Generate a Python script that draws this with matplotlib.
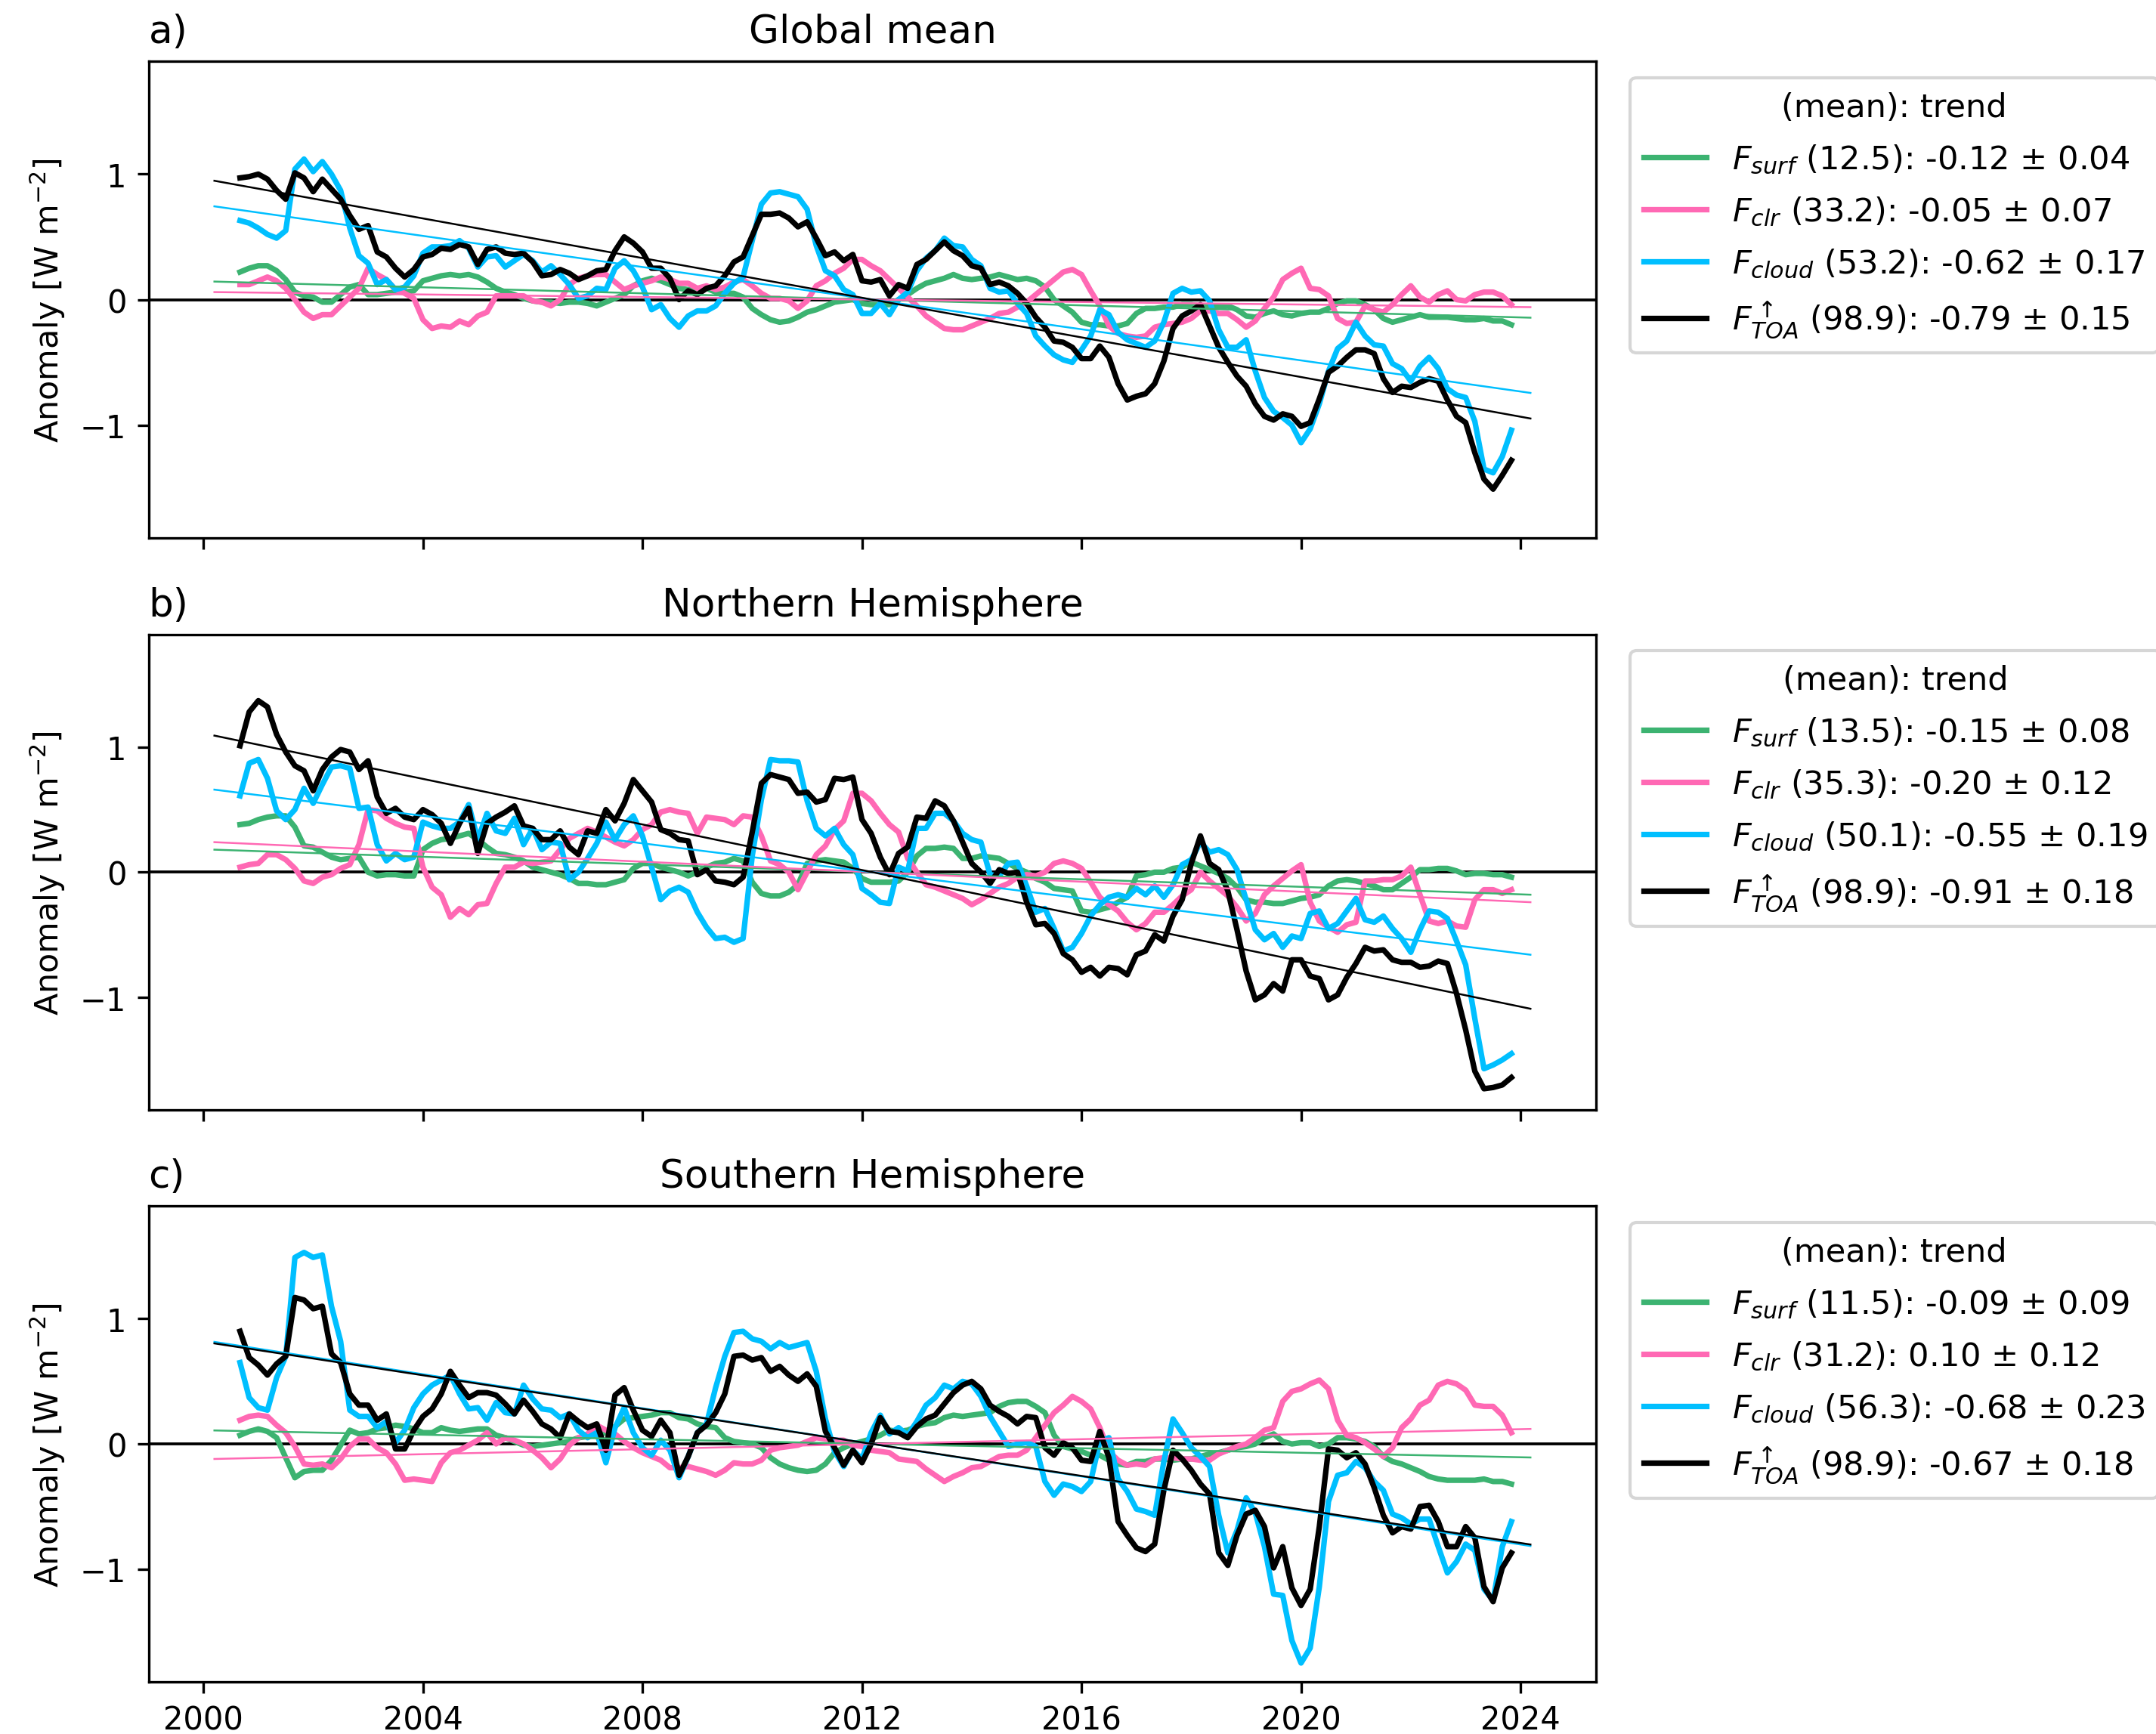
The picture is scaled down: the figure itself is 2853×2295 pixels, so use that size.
import numpy as np
import matplotlib
matplotlib.use("Agg")
import matplotlib.pyplot as plt

# Bi-monthly time axis of the 12-month running means (Sep 2000 .. Nov 2023)
time = 2000 + 8 / 12 + np.arange(140) / 6

# Period used for the linear trends (Mar 2000 .. Mar 2024)
trend_span = (2000.2, 2024.18)

names = [r"$F_{surf}$", r"$F_{clr}$", r"$F_{cloud}$", r"$F^{\uparrow}_{TOA}$"]
colors = ["mediumseagreen", "hotpink", "deepskyblue", "black"]

# ---------------- Global mean ----------------
gm_surf = [
    0.22, 0.25, 0.27, 0.27, 0.23, 0.16, 0.06, 0.03, 0.02, -0.02,
    -0.02, 0.04, 0.10, 0.12, 0.04, 0.04, 0.05, 0.06, 0.06, 0.07,
    0.15, 0.17, 0.19, 0.20, 0.19, 0.20, 0.18, 0.14, 0.09, 0.06,
    0.04, 0.01, -0.01, -0.02, -0.02, -0.03, -0.02, -0.02, -0.03, -0.05,
    -0.02, 0.01, 0.04, 0.11, 0.15, 0.17, 0.15, 0.12, 0.09, 0.08,
    0.09, 0.09, 0.06, 0.05, 0.05, 0.02, -0.07, -0.12, -0.16, -0.18,
    -0.17, -0.14, -0.10, -0.08, -0.05, -0.02, -0.01, 0.00, -0.03, -0.04,
    -0.04, -0.04, 0.00, 0.04, 0.09, 0.13, 0.15, 0.17, 0.20, 0.17,
    0.16, 0.17, 0.18, 0.20, 0.18, 0.16, 0.17, 0.15, 0.10, 0.00,
    -0.05, -0.10, -0.18, -0.20, -0.20, -0.21, -0.21, -0.19, -0.11, -0.07,
    -0.07, -0.06, -0.06, -0.04, -0.04, -0.05, -0.06, -0.06, -0.05, -0.08,
    -0.13, -0.14, -0.11, -0.09, -0.12, -0.13, -0.11, -0.10, -0.10, -0.07,
    -0.03, -0.01, -0.01, -0.04, -0.08, -0.15, -0.18, -0.16, -0.14, -0.12,
    -0.14, -0.14, -0.14, -0.15, -0.16, -0.16, -0.15, -0.17, -0.17, -0.20,
]
gm_clr = [
    0.12, 0.12, 0.15, 0.18, 0.15, 0.09, 0.00, -0.10, -0.15, -0.12,
    -0.12, -0.05, 0.02, 0.09, 0.25, 0.20, 0.16, 0.08, 0.05, 0.01,
    -0.16, -0.23, -0.21, -0.22, -0.17, -0.20, -0.13, -0.10, 0.03, 0.03,
    0.03, 0.03, -0.01, -0.02, -0.05, 0.00, 0.12, 0.17, 0.19, 0.20,
    0.20, 0.14, 0.08, 0.11, 0.13, 0.15, 0.18, 0.16, 0.13, 0.13,
    0.09, 0.11, 0.08, 0.10, 0.14, 0.16, 0.11, 0.05, 0.01, 0.01,
    -0.01, -0.07, -0.01, 0.11, 0.15, 0.21, 0.25, 0.32, 0.32, 0.27,
    0.23, 0.16, 0.09, 0.02, -0.05, -0.13, -0.18, -0.23, -0.24, -0.24,
    -0.21, -0.18, -0.15, -0.11, -0.10, -0.06, -0.02, 0.04, 0.10, 0.16,
    0.22, 0.24, 0.20, 0.07, -0.05, -0.21, -0.27, -0.29, -0.30, -0.29,
    -0.22, -0.20, -0.19, -0.18, -0.15, -0.09, -0.09, -0.11, -0.11, -0.16,
    -0.22, -0.17, -0.07, 0.02, 0.16, 0.21, 0.25, 0.09, 0.08, 0.03,
    -0.15, -0.19, -0.18, -0.05, -0.08, -0.10, -0.04, 0.04, 0.11, 0.02,
    -0.02, 0.04, 0.07, 0.00, -0.01, 0.04, 0.06, 0.06, 0.03, -0.04,
]
gm_cloud = [
    0.63, 0.61, 0.57, 0.52, 0.49, 0.55, 1.04, 1.12, 1.02, 1.10,
    1.00, 0.87, 0.57, 0.35, 0.29, 0.12, 0.16, 0.08, 0.10, 0.19,
    0.37, 0.42, 0.42, 0.43, 0.47, 0.41, 0.26, 0.34, 0.35, 0.26,
    0.31, 0.36, 0.31, 0.22, 0.27, 0.20, 0.12, 0.01, 0.03, 0.09,
    0.08, 0.25, 0.31, 0.23, 0.10, -0.08, -0.04, -0.15, -0.22, -0.13,
    -0.09, -0.09, -0.05, 0.05, 0.13, 0.18, 0.47, 0.76, 0.85, 0.86,
    0.84, 0.82, 0.72, 0.43, 0.23, 0.19, 0.08, 0.04, -0.11, -0.11,
    -0.03, -0.12, 0.00, 0.06, 0.23, 0.33, 0.39, 0.49, 0.43, 0.42,
    0.32, 0.27, 0.09, 0.06, 0.07, -0.03, -0.11, -0.29, -0.37, -0.44,
    -0.48, -0.50, -0.40, -0.29, -0.08, -0.12, -0.26, -0.32, -0.35, -0.38,
    -0.33, -0.18, 0.05, 0.09, 0.06, 0.07, -0.01, -0.24, -0.38, -0.38,
    -0.32, -0.57, -0.78, -0.89, -0.94, -1.00, -1.14, -1.03, -0.83, -0.57,
    -0.39, -0.33, -0.18, -0.29, -0.36, -0.37, -0.51, -0.55, -0.65, -0.53,
    -0.46, -0.55, -0.71, -0.76, -0.78, -0.97, -1.35, -1.38, -1.25, -1.04,
]
gm_toa = [
    0.97, 0.98, 1.00, 0.96, 0.87, 0.80, 1.01, 0.97, 0.86, 0.96,
    0.88, 0.80, 0.67, 0.56, 0.59, 0.38, 0.34, 0.25, 0.18, 0.24,
    0.34, 0.36, 0.41, 0.40, 0.44, 0.42, 0.28, 0.40, 0.42, 0.37,
    0.36, 0.37, 0.30, 0.19, 0.20, 0.24, 0.21, 0.16, 0.19, 0.23,
    0.24, 0.39, 0.50, 0.45, 0.38, 0.25, 0.25, 0.17, 0.00, 0.07,
    0.04, 0.09, 0.11, 0.19, 0.30, 0.34, 0.51, 0.68, 0.68, 0.69,
    0.65, 0.58, 0.62, 0.49, 0.35, 0.38, 0.31, 0.36, 0.15, 0.14,
    0.16, 0.03, 0.12, 0.09, 0.28, 0.32, 0.39, 0.46, 0.39, 0.35,
    0.27, 0.25, 0.12, 0.14, 0.11, 0.05, -0.03, -0.14, -0.22, -0.33,
    -0.34, -0.38, -0.47, -0.47, -0.37, -0.46, -0.67, -0.80, -0.77, -0.75,
    -0.67, -0.49, -0.23, -0.13, -0.09, -0.04, -0.21, -0.38, -0.50, -0.61,
    -0.69, -0.83, -0.93, -0.96, -0.91, -0.93, -1.01, -0.98, -0.79, -0.58,
    -0.53, -0.46, -0.40, -0.40, -0.43, -0.63, -0.74, -0.69, -0.70, -0.66,
    -0.63, -0.65, -0.80, -0.93, -0.98, -1.22, -1.43, -1.51, -1.40, -1.28,
]
gm_means = [12.5, 33.2, 53.2, 98.9]
gm_trends = [-0.12, -0.05, -0.62, -0.79]
gm_errors = [0.04, 0.07, 0.17, 0.15]

# ---------------- Northern Hemisphere ----------------
nh_surf = [
    0.38, 0.39, 0.42, 0.44, 0.45, 0.45, 0.36, 0.21, 0.20, 0.16,
    0.12, 0.10, 0.11, 0.12, 0.00, -0.03, -0.02, -0.02, -0.03, -0.03,
    0.18, 0.23, 0.26, 0.27, 0.29, 0.31, 0.26, 0.20, 0.15, 0.14,
    0.12, 0.09, 0.04, 0.02, 0.00, -0.02, -0.05, -0.09, -0.09, -0.10,
    -0.10, -0.08, -0.06, 0.03, 0.07, 0.07, 0.04, 0.02, 0.00, -0.03,
    0.00, 0.04, 0.07, 0.08, 0.11, 0.09, -0.08, -0.17, -0.19, -0.19,
    -0.16, -0.10, 0.07, 0.09, 0.10, 0.09, 0.08, 0.03, -0.05, -0.08,
    -0.08, -0.08, -0.07, 0.00, 0.13, 0.19, 0.19, 0.20, 0.19, 0.11,
    0.11, 0.13, 0.12, 0.11, 0.07, 0.03, 0.00, -0.05, -0.08, -0.13,
    -0.14, -0.15, -0.31, -0.32, -0.30, -0.28, -0.24, -0.20, -0.03, -0.02,
    0.00, 0.00, 0.03, 0.04, 0.08, 0.05, 0.02, -0.01, -0.05, -0.12,
    -0.22, -0.24, -0.24, -0.25, -0.25, -0.23, -0.21, -0.20, -0.18, -0.11,
    -0.07, -0.06, -0.07, -0.09, -0.11, -0.14, -0.14, -0.09, -0.04, 0.02,
    0.02, 0.03, 0.03, 0.01, -0.02, -0.01, -0.01, -0.02, -0.02, -0.04,
]
nh_clr = [
    0.04, 0.06, 0.07, 0.14, 0.14, 0.10, 0.03, -0.07, -0.09, -0.04,
    -0.02, 0.03, 0.06, 0.22, 0.50, 0.49, 0.43, 0.39, 0.36, 0.35,
    0.04, -0.12, -0.18, -0.36, -0.29, -0.34, -0.26, -0.25, -0.09, 0.04,
    0.04, 0.08, 0.07, 0.08, 0.09, 0.18, 0.27, 0.31, 0.35, 0.32,
    0.28, 0.24, 0.21, 0.26, 0.34, 0.38, 0.48, 0.50, 0.48, 0.47,
    0.31, 0.44, 0.43, 0.42, 0.38, 0.45, 0.44, 0.29, 0.09, 0.06,
    0.00, -0.14, 0.00, 0.14, 0.21, 0.34, 0.41, 0.63, 0.63, 0.57,
    0.47, 0.38, 0.32, 0.11, 0.00, -0.10, -0.12, -0.15, -0.18, -0.21,
    -0.26, -0.22, -0.17, -0.12, -0.09, -0.04, -0.02, -0.03, 0.00, 0.07,
    0.09, 0.07, 0.03, -0.08, -0.20, -0.26, -0.31, -0.40, -0.46, -0.41,
    -0.32, -0.32, -0.26, -0.19, -0.14, 0.00, -0.07, -0.13, -0.19, -0.28,
    -0.39, -0.33, -0.18, -0.11, -0.05, 0.01, 0.06, -0.24, -0.39, -0.44,
    -0.48, -0.42, -0.40, -0.07, -0.07, -0.06, -0.06, -0.03, 0.04, -0.18,
    -0.39, -0.41, -0.39, -0.43, -0.44, -0.22, -0.14, -0.14, -0.17, -0.14,
]
nh_cloud = [
    0.61, 0.87, 0.90, 0.75, 0.49, 0.42, 0.50, 0.67, 0.55, 0.70,
    0.84, 0.85, 0.83, 0.51, 0.52, 0.22, 0.09, 0.15, 0.10, 0.12,
    0.40, 0.37, 0.35, 0.35, 0.40, 0.54, 0.26, 0.47, 0.33, 0.31,
    0.43, 0.22, 0.35, 0.18, 0.24, 0.23, -0.06, 0.00, 0.11, 0.23,
    0.40, 0.26, 0.38, 0.45, 0.29, 0.04, -0.22, -0.15, -0.12, -0.16,
    -0.32, -0.44, -0.53, -0.52, -0.56, -0.53, 0.13, 0.58, 0.90, 0.89,
    0.89, 0.88, 0.57, 0.35, 0.29, 0.35, 0.22, 0.14, -0.13, -0.18,
    -0.24, -0.25, 0.04, 0.01, 0.35, 0.35, 0.47, 0.47, 0.41, 0.31,
    0.26, 0.24, -0.02, -0.03, 0.07, 0.08, -0.11, -0.32, -0.29, -0.45,
    -0.63, -0.60, -0.49, -0.35, -0.26, -0.20, -0.18, -0.20, -0.13, -0.18,
    -0.11, -0.20, -0.10, 0.06, 0.10, 0.24, 0.16, 0.18, 0.14, 0.02,
    -0.22, -0.46, -0.54, -0.49, -0.60, -0.51, -0.53, -0.33, -0.31, -0.45,
    -0.41, -0.31, -0.21, -0.38, -0.40, -0.35, -0.45, -0.53, -0.64, -0.46,
    -0.31, -0.32, -0.37, -0.55, -0.74, -1.17, -1.57, -1.54, -1.50, -1.45,
]
nh_toa = [
    1.01, 1.28, 1.37, 1.32, 1.10, 0.96, 0.85, 0.81, 0.65, 0.82,
    0.92, 0.98, 0.96, 0.82, 0.89, 0.60, 0.47, 0.51, 0.44, 0.42,
    0.50, 0.46, 0.39, 0.23, 0.39, 0.51, 0.15, 0.39, 0.44, 0.48,
    0.53, 0.37, 0.35, 0.26, 0.26, 0.33, 0.20, 0.14, 0.33, 0.31,
    0.50, 0.41, 0.55, 0.74, 0.65, 0.56, 0.34, 0.31, 0.26, 0.25,
    -0.02, 0.02, -0.07, -0.08, -0.10, -0.04, 0.32, 0.71, 0.78, 0.76,
    0.74, 0.63, 0.64, 0.56, 0.58, 0.75, 0.74, 0.76, 0.42, 0.31,
    0.12, -0.02, 0.15, 0.20, 0.44, 0.43, 0.57, 0.53, 0.41, 0.24,
    0.07, 0.00, -0.09, 0.02, -0.01, 0.00, -0.24, -0.42, -0.41, -0.49,
    -0.65, -0.70, -0.80, -0.76, -0.83, -0.76, -0.77, -0.82, -0.66, -0.63,
    -0.50, -0.55, -0.35, -0.22, 0.07, 0.29, 0.07, 0.02, -0.15, -0.46,
    -0.79, -1.02, -0.98, -0.89, -0.95, -0.70, -0.70, -0.83, -0.85, -1.02,
    -0.98, -0.84, -0.73, -0.60, -0.63, -0.62, -0.70, -0.72, -0.72, -0.76,
    -0.75, -0.71, -0.73, -0.97, -1.26, -1.59, -1.73, -1.72, -1.70, -1.64,
]
nh_means = [13.5, 35.3, 50.1, 98.9]
nh_trends = [-0.15, -0.20, -0.55, -0.91]
nh_errors = [0.08, 0.12, 0.19, 0.18]

# ---------------- Southern Hemisphere ----------------
sh_surf = [
    0.07, 0.10, 0.12, 0.10, 0.05, -0.11, -0.27, -0.22, -0.21, -0.21,
    -0.13, -0.01, 0.11, 0.08, 0.09, 0.12, 0.13, 0.15, 0.14, 0.12,
    0.09, 0.09, 0.13, 0.11, 0.10, 0.11, 0.12, 0.12, 0.07, 0.05,
    0.02, -0.01, -0.02, -0.01, 0.00, 0.01, 0.02, 0.05, 0.06, 0.07,
    0.09, 0.14, 0.20, 0.21, 0.22, 0.23, 0.25, 0.25, 0.21, 0.20,
    0.16, 0.14, 0.13, 0.05, 0.02, 0.01, 0.00, -0.03, -0.11, -0.16,
    -0.19, -0.21, -0.22, -0.21, -0.16, -0.07, -0.03, 0.00, 0.02, 0.04,
    0.07, 0.11, 0.10, 0.11, 0.14, 0.16, 0.17, 0.21, 0.23, 0.22,
    0.23, 0.24, 0.25, 0.30, 0.33, 0.34, 0.34, 0.30, 0.25, 0.07,
    -0.02, -0.04, -0.06, -0.09, -0.09, -0.13, -0.16, -0.17, -0.14, -0.14,
    -0.12, -0.12, -0.13, -0.12, -0.12, -0.10, -0.08, -0.07, -0.05, -0.03,
    -0.02, 0.00, 0.05, 0.08, 0.02, 0.00, 0.01, 0.01, -0.02, 0.00,
    0.05, 0.05, 0.04, 0.02, -0.02, -0.10, -0.14, -0.16, -0.19, -0.22,
    -0.26, -0.28, -0.29, -0.29, -0.29, -0.29, -0.28, -0.30, -0.30, -0.32,
]
sh_clr = [
    0.19, 0.22, 0.23, 0.22, 0.15, 0.09, -0.02, -0.16, -0.17, -0.16,
    -0.19, -0.12, -0.02, 0.04, 0.04, -0.03, -0.07, -0.16, -0.29, -0.28,
    -0.29, -0.30, -0.15, -0.07, -0.05, -0.01, 0.03, 0.09, 0.00, 0.05,
    0.03, 0.00, -0.05, -0.11, -0.19, -0.12, -0.01, 0.05, 0.08, 0.15,
    0.11, 0.08, 0.02, -0.03, -0.07, -0.10, -0.13, -0.19, -0.19, -0.18,
    -0.20, -0.22, -0.25, -0.21, -0.15, -0.16, -0.16, -0.13, -0.05, -0.03,
    -0.02, -0.01, 0.02, 0.05, 0.04, 0.03, 0.03, -0.01, -0.02, -0.05,
    -0.06, -0.07, -0.12, -0.13, -0.14, -0.20, -0.25, -0.30, -0.26, -0.23,
    -0.19, -0.18, -0.14, -0.10, -0.09, -0.09, -0.05, 0.05, 0.15, 0.25,
    0.31, 0.38, 0.34, 0.28, 0.13, -0.06, -0.13, -0.17, -0.16, -0.17,
    -0.12, -0.11, -0.11, -0.12, -0.12, -0.13, -0.13, -0.08, -0.05, -0.02,
    0.00, 0.05, 0.11, 0.13, 0.34, 0.42, 0.44, 0.48, 0.51, 0.44,
    0.19, 0.07, 0.05, 0.01, -0.04, -0.10, -0.03, 0.13, 0.20, 0.31,
    0.35, 0.47, 0.50, 0.48, 0.43, 0.31, 0.30, 0.30, 0.23, 0.09,
]
sh_cloud = [
    0.65, 0.37, 0.29, 0.27, 0.53, 0.70, 1.49, 1.53, 1.49, 1.51,
    1.10, 0.82, 0.27, 0.22, 0.22, 0.13, 0.18, 0.01, 0.11, 0.29,
    0.40, 0.47, 0.51, 0.55, 0.40, 0.28, 0.29, 0.19, 0.33, 0.25,
    0.24, 0.47, 0.36, 0.28, 0.27, 0.21, 0.24, 0.11, 0.05, 0.09,
    -0.15, 0.13, 0.29, 0.09, -0.03, -0.09, 0.03, -0.05, -0.27, -0.10,
    0.09, 0.16, 0.45, 0.70, 0.89, 0.90, 0.84, 0.82, 0.76, 0.81,
    0.77, 0.79, 0.81, 0.58, 0.20, -0.06, -0.18, -0.05, -0.12, 0.09,
    0.23, 0.08, 0.13, 0.07, 0.18, 0.31, 0.37, 0.47, 0.44, 0.50,
    0.48, 0.38, 0.22, 0.10, -0.02, 0.00, 0.01, -0.02, -0.30, -0.41,
    -0.32, -0.34, -0.38, -0.30, 0.02, 0.05, -0.28, -0.38, -0.52, -0.54,
    -0.57, -0.14, 0.20, 0.09, -0.03, -0.10, -0.18, -0.57, -0.87, -0.69,
    -0.43, -0.55, -0.82, -1.20, -1.21, -1.57, -1.75, -1.63, -1.14, -0.46,
    -0.25, -0.23, -0.14, -0.19, -0.30, -0.37, -0.56, -0.59, -0.64, -0.60,
    -0.60, -0.82, -1.03, -0.94, -0.80, -0.85, -1.16, -1.25, -0.82, -0.62,
]
sh_toa = [
    0.90, 0.69, 0.63, 0.55, 0.64, 0.70, 1.17, 1.15, 1.08, 1.10,
    0.72, 0.65, 0.40, 0.31, 0.31, 0.19, 0.24, -0.04, -0.04, 0.11,
    0.22, 0.28, 0.40, 0.58, 0.47, 0.37, 0.41, 0.41, 0.39, 0.32,
    0.24, 0.35, 0.26, 0.16, 0.12, 0.05, 0.24, 0.18, 0.13, 0.16,
    -0.05, 0.39, 0.45, 0.27, 0.11, 0.06, 0.19, 0.09, -0.25, -0.10,
    0.09, 0.15, 0.25, 0.40, 0.70, 0.71, 0.67, 0.69, 0.58, 0.62,
    0.55, 0.50, 0.56, 0.46, 0.10, -0.03, -0.17, -0.05, -0.15, 0.00,
    0.21, 0.10, 0.09, 0.05, 0.14, 0.20, 0.23, 0.32, 0.41, 0.47,
    0.50, 0.44, 0.31, 0.26, 0.22, 0.16, 0.22, 0.21, -0.03, -0.09,
    0.01, -0.03, -0.13, -0.14, 0.10, -0.11, -0.62, -0.73, -0.83, -0.86,
    -0.80, -0.37, -0.05, -0.12, -0.21, -0.32, -0.40, -0.87, -0.97, -0.73,
    -0.56, -0.53, -0.66, -0.99, -0.82, -1.15, -1.29, -1.16, -0.66, -0.04,
    -0.05, -0.11, -0.07, -0.16, -0.35, -0.57, -0.71, -0.66, -0.68, -0.50,
    -0.49, -0.62, -0.82, -0.82, -0.66, -0.75, -1.14, -1.26, -0.99, -0.87,
]
sh_means = [11.5, 31.2, 56.3, 98.9]
sh_trends = [-0.09, 0.10, -0.68, -0.67]
sh_errors = [0.09, 0.12, 0.23, 0.18]

panels = [
    ("a)", "Global mean", [gm_surf, gm_clr, gm_cloud, gm_toa], gm_means, gm_trends, gm_errors),
    ("b)", "Northern Hemisphere", [nh_surf, nh_clr, nh_cloud, nh_toa], nh_means, nh_trends, nh_errors),
    ("c)", "Southern Hemisphere", [sh_surf, sh_clr, sh_cloud, sh_toa], sh_means, sh_trends, sh_errors),
]

fig = plt.figure(figsize=(9.51, 7.6533), dpi=300)
axes_rects = [
    [0.0689, 0.6894, 0.6715, 0.2749],
    [0.0689, 0.3597, 0.6715, 0.2742],
    [0.0689, 0.0301, 0.6715, 0.2742],
]

t0, t1 = trend_span
tmid = 0.5 * (t0 + t1)
tline = np.array([t0, t1])

leg_fs = 10.35
for rect, (tag, title, series, means, trends, errors) in zip(axes_rects, panels):
    ax = fig.add_axes(rect)
    ax.axhline(0, color="black", lw=0.9, zorder=1)
    for vals, name, col, mean, tr, err in zip(series, names, colors, means, trends, errors):
        label = f"{name} ({mean:.1f}): {tr:.2f} \u00b1 {err:.2f}"
        ax.plot(time, vals, color=col, lw=1.75, label=label, zorder=2)
        ax.plot(tline, tr / 10.0 * (tline - tmid), color=col, lw=0.6, zorder=3)
    ax.set_xlim(1999.0, 2025.38)
    ax.set_ylim(-1.9, 1.9)
    ax.set_xticks([2000, 2004, 2008, 2012, 2016, 2020, 2024])
    ax.set_yticks([-1, 0, 1])
    if tag != "c)":
        ax.set_xticklabels([])
    ax.set_ylabel(r"Anomaly [W m$^{-2}$]", fontsize=10.3)
    ax.set_title(title, fontsize=12.4)
    ax.set_title(tag, loc="left", fontsize=12.4)
    ax.legend(title="(mean): trend", loc="upper left", bbox_to_anchor=(1.012, 1.0),
              fontsize=leg_fs, title_fontsize=leg_fs, labelspacing=0.6,
              borderpad=0.42, handlelength=2.0 * 10 / leg_fs,
              handletextpad=0.8 * 10 / leg_fs)

fig.savefig("out.png", dpi=300)
